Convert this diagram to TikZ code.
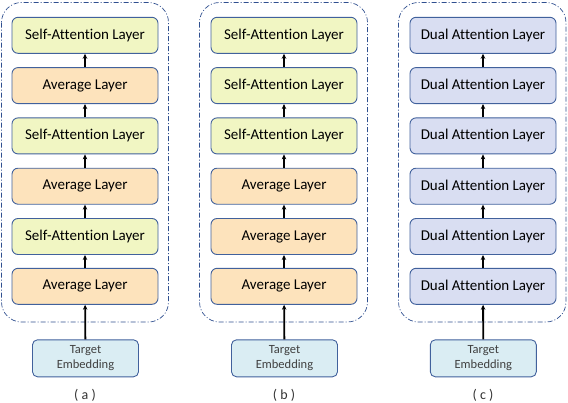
\documentclass[tikz,border=0pt]{standalone}
\usepackage{fontspec}
\setmainfont{Carlito}[Ligatures=NoCommon]
\usetikzlibrary{arrows.meta}
\definecolor{bordc}{HTML}{41619C}
\definecolor{sacol}{HTML}{F1F6C3}
\definecolor{avcol}{HTML}{FDE3BC}
\definecolor{dacol}{HTML}{D9DEF2}
\definecolor{tecol}{HTML}{DAEDF3}
\definecolor{frcol}{HTML}{2F4F8F}
\tikzset{
  layer/.style={draw=bordc, line width=0.9pt, rounded corners=6pt, minimum width=146pt, minimum height=36pt, inner sep=0pt, font=\fontsize{15}{17}\selectfont},
  sal/.style={layer, fill=sacol},
  avl/.style={layer, fill=avcol},
  dal/.style={layer, fill=dacol},
  temb/.style={draw=bordc, line width=0.9pt, rounded corners=5pt, fill=tecol, minimum width=106pt, minimum height=37pt, inner sep=0pt, align=center, text=black!75, font=\fontsize{12.5}{15}\selectfont},
  frame/.style={draw=frcol, line width=0.7pt, dash pattern=on 5pt off 2pt on 1pt off 2pt, rounded corners=20pt},
  conn/.style={-{Stealth[length=5pt,width=4.5pt]}, line width=1.4pt, black},
  conn2/.style={-{Stealth[length=5pt,width=4.5pt]}, line width=1.8pt, black},
  captext/.style={font=\fontsize{14}{16}\selectfont, text=black!80}
}
\begin{document}
\begin{tikzpicture}[x=1pt,y=-1pt]
\useasboundingbox (0,0) rectangle (568,402);
% panel a
\draw[frame] (1.5,2.5) rectangle (168.5,322);
\node[sal] (a1) at (85,35.3) {Self-Attention Layer};
\node[avl] (a2) at (85,85.6) {Average Layer};
\node[sal] (a3) at (85,135.9) {Self-Attention Layer};
\node[avl] (a4) at (85,186.2) {Average Layer};
\node[sal] (a5) at (85,236.5) {Self-Attention Layer};
\node[avl] (a6) at (85,286.3) {Average Layer};
\node[temb] (at) at (85.5,358.3) {Target\\Embedding};
\node[captext] (ac) at (85,395) {( a )};
\draw[conn] (a2) -- (a1);
\draw[conn] (a3) -- (a2);
\draw[conn] (a4) -- (a3);
\draw[conn] (a5) -- (a4);
\draw[conn] (a6) -- (a5);
\draw[conn2] (at) -- (a6);
% panel b
\draw[frame] (199.5,2.5) rectangle (367.5,322);
\node[sal] (b1) at (284,35.3) {Self-Attention Layer};
\node[sal] (b2) at (284,85.6) {Self-Attention Layer};
\node[sal] (b3) at (284,135.9) {Self-Attention Layer};
\node[avl] (b4) at (284,186.2) {Average Layer};
\node[avl] (b5) at (284,236.5) {Average Layer};
\node[avl] (b6) at (284,286.3) {Average Layer};
\node[temb] (bt) at (284.5,358.3) {Target\\Embedding};
\node[captext] (bc) at (284,395) {( b )};
\draw[conn] (b2) -- (b1);
\draw[conn] (b3) -- (b2);
\draw[conn] (b4) -- (b3);
\draw[conn] (b5) -- (b4);
\draw[conn] (b6) -- (b5);
\draw[conn2] (bt) -- (b6);
% panel c
\draw[frame] (398.5,2.5) rectangle (566,322);
\node[dal] (c1) at (483,35.3) {Dual Attention Layer};
\node[dal] (c2) at (483,85.6) {Dual Attention Layer};
\node[dal] (c3) at (483,135.9) {Dual Attention Layer};
\node[dal] (c4) at (483,186.2) {Dual Attention Layer};
\node[dal] (c5) at (483,236.5) {Dual Attention Layer};
\node[dal] (c6) at (483,286.3) {Dual Attention Layer};
\node[temb] (ct) at (483.3,358.3) {Target\\Embedding};
\node[captext] (cc) at (483,395) {( c )};
\draw[conn] (c2) -- (c1);
\draw[conn] (c3) -- (c2);
\draw[conn] (c4) -- (c3);
\draw[conn] (c5) -- (c4);
\draw[conn] (c6) -- (c5);
\draw[conn2] (ct) -- (c6);
\end{tikzpicture}
\end{document}
